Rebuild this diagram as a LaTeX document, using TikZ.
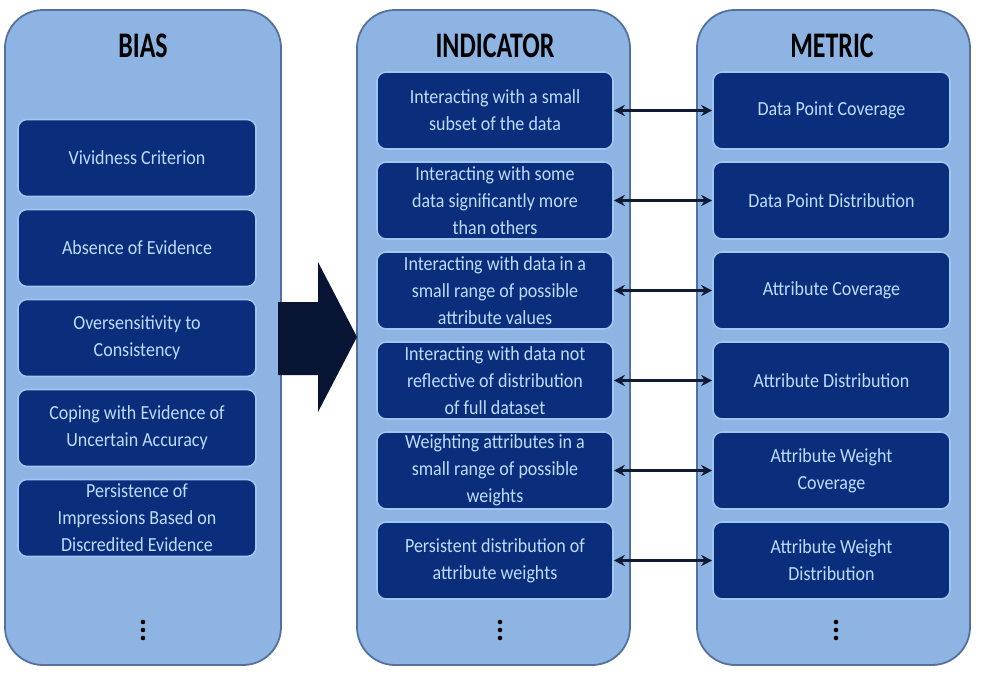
\documentclass[tikz,border=0pt]{standalone}
\usepackage{fontspec}
\setmainfont[FakeStretch=0.9]{Carlito}
\newfontfamily\titlefont[FakeStretch=0.72]{Carlito}
\usetikzlibrary{arrows.meta}
\definecolor{colfill}{RGB}{141,180,226}
\definecolor{colborder}{RGB}{84,112,158}
\definecolor{boxfill}{RGB}{10,46,124}
\definecolor{boxborder}{RGB}{160,198,242}
\definecolor{boxtext}{RGB}{190,220,255}
\definecolor{linkcol}{RGB}{15,26,53}
\definecolor{bigarrow}{RGB}{8,20,52}
\begin{document}
\begin{tikzpicture}[x=1pt,y=-1pt,
  column/.style={draw=colborder, line width=1.8pt, fill=colfill, rounded corners=38pt},
  itembox/.style={draw=boxborder, line width=1.6pt, fill=boxfill, rounded corners=9pt,
    minimum height=77pt, inner sep=0pt, align=center, text=boxtext,
    font=\fontsize{20}{27}\selectfont},
  biasbox/.style={itembox, minimum width=238pt},
  indbox/.style={itembox, minimum width=236pt},
  metbox/.style={itembox, minimum width=237pt},
  title/.style={font=\titlefont\bfseries\fontsize{36}{40}\selectfont, text=black, inner sep=0pt},
  link/.style={draw=linkcol, line width=2.6pt, {Stealth[length=11pt,width=11pt]}-{Stealth[length=11pt,width=11pt]}},
  dotmark/.style={fill=black}
]
\useasboundingbox (0,0) rectangle (983,675);
% columns
\draw[column] (5,10) rectangle (281,665);
\draw[column] (357,10) rectangle (630,665);
\draw[column] (697,10) rectangle (970,665);
% titles
\node[title] (tb) at (143,46) {BIAS};
\node[title] (ti) at (495,46) {INDICATOR};
\node[title] (tm) at (832,46) {METRIC};
% big arrow
\fill[bigarrow] (278,302) -- (318,302) -- (318,262) -- (357,337) -- (318,412) -- (318,375) -- (278,375) -- cycle;
% bias boxes
\node[biasbox] (b1) at (137,158) {Vividness Criterion};
\node[biasbox] (b2) at (137,248) {Absence of Evidence};
\node[biasbox] (b3) at (137,338) {Oversensitivity to\\Consistency};
\node[biasbox] (b4) at (137,428) {Coping with Evidence of\\Uncertain Accuracy};
\node[biasbox] (b5) at (137,518) {Persistence of\\Impressions Based on\\Discredited Evidence};
% indicator boxes
\node[indbox] (i1) at (495,110.5) {Interacting with a small\\subset of the data};
\node[indbox] (i2) at (495,200.5) {Interacting with some\\data significantly more\\than others};
\node[indbox] (i3) at (495,290.5) {Interacting with data in a\\small range of possible\\attribute values};
\node[indbox] (i4) at (495,380.5) {Interacting with data not\\reflective of distribution\\of full dataset};
\node[indbox] (i5) at (495,470.5) {Weighting attributes in a\\small range of possible\\weights};
\node[indbox] (i6) at (495,560.5) {Persistent distribution of\\attribute weights};
% metric boxes
\node[metbox] (m1) at (831.5,110.5) {Data Point Coverage};
\node[metbox] (m2) at (831.5,200.5) {Data Point Distribution};
\node[metbox] (m3) at (831.5,290.5) {Attribute Coverage};
\node[metbox] (m4) at (831.5,380.5) {Attribute Distribution};
\node[metbox] (m5) at (831.5,470.5) {Attribute Weight\\Coverage};
\node[metbox] (m6) at (831.5,560.5) {Attribute Weight\\Distribution};
% links
\foreach \k in {1,...,6}{
  \draw[link] (i\k.east) -- (m\k.west);
}
% ellipsis dots
\foreach \cx in {143,500,836}{
  \foreach \cy in {622,630,638}{
    \fill[dotmark] (\cx,\cy) circle (2.3pt);
  }
}
\end{tikzpicture}
\end{document}
